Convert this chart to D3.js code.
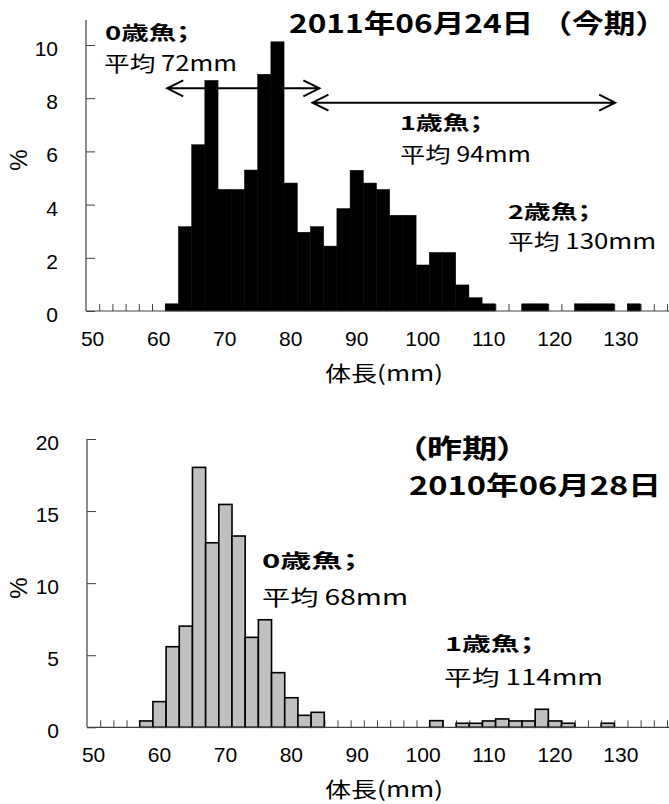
<!DOCTYPE html>
<html><head><meta charset="utf-8">
<script src="https://cdn.jsdelivr.net/npm/d3@7"></script>
<style>
body{margin:0;background:#fff;}
svg text{fill:#000;}
.cjk{font-family:"Noto Sans CJK JP","Noto Sans CJK SC",sans-serif;font-feature-settings:"palt";}
.cjk.full{font-feature-settings:normal;}
.num{font-family:"Liberation Sans",Arial,sans-serif;}
</style></head><body>
<svg id="c" width="669" height="804"></svg>
<script>
// ---------- data ----------
const categories = [50,52,54,56,58,60,62,64,66,68,70,72,74,76,78,80,82,84,86,88,90,92,94,96,98,100,
  102,104,106,108,110,112,114,116,118,120,122,124,126,128,130,132,134,136];
const tickLabels = [50,60,70,80,90,100,110,120,130];
const pct2011 = [0,0,0,0,0,0,0.27,3.17,6.25,8.67,4.57,4.57,5.3,8.9,10.12,4.81,2.96,3.17,2.44,3.85,5.29,4.81,4.57,3.6,3.6,1.73,
  2.2,2.2,0.98,0.5,0.27,0,0,0.27,0.27,0,0,0.27,0.27,0.27,0,0.27,0,0];
const pct2010 = [0,0,0,0,0.44,1.78,5.59,7.02,18.03,12.8,15.46,13.27,6.24,7.46,3.79,2.05,0.83,1.04,0,0,0,0,0,0,0,0,
  0.46,0,0.28,0.28,0.44,0.58,0.44,0.44,1.25,0.44,0.28,0,0,0.28,0,0,0,0];
const yTicks2011 = [0,2,4,6,8,10];
const yTicks2010 = [0,5,10,15,20];
const xTitle = "体長(mm)";
const yTitle = "%";
const title2011 = ["2011年06月24日 （今期）"];
const title2010 = ["（昨期）", "2010年06月28日"];
const notes2011 = ["0歳魚；", "平均 72mm", "1歳魚；", "平均 94mm", "2歳魚；", "平均 130mm"];
const notes2010 = ["0歳魚；", "平均 68mm", "1歳魚；", "平均 114mm"];
// age-group ranges (mm) and arrow height (%) for 2011
const arrowFrom2011 = [62.3, 84.3];
const arrowTo2011 = [85.35, 130.15];
const arrowAt2011 = [8.37, 7.83];

// ---------- layout ----------
const svg = d3.select("#c");
const W = 669;

function drawChart(cfg) {
  const g = svg.append("g");
  const xBand = d3.scaleBand().domain(categories).range([cfg.x0, cfg.x1]).padding(0);
  const xLin = d3.scaleLinear().domain([categories[0], categories[categories.length-1] + 2]).range([cfg.x0, cfg.x1]);
  const y = d3.scaleLinear().domain([0, cfg.yMax]).range([cfg.yBase, cfg.yTopTick]);

  const bounds = categories.map(c => c + 2);
  g.append("g").attr("transform", `translate(0,${cfg.yBase})`)
    .call(d3.axisBottom(xLin).tickValues(bounds).tickSize(-7).tickSizeOuter(0).tickFormat(""))
    .call(a => a.select(".domain").remove())
    .call(a => a.selectAll("line").attr("stroke", "#404040"));

  g.append("g").selectAll("rect").data(categories.map((c, i) => ({c, v: cfg.values[i]})).filter(d => d.v > 0))
    .join("rect")
    .attr("x", d => xBand(d.c)).attr("width", xBand.bandwidth())
    .attr("y", d => y(d.v)).attr("height", d => y(0) - y(d.v))
    .attr("fill", cfg.fill).attr("stroke", cfg.stroke).attr("stroke-width", cfg.sw);

  g.append("line").attr("x1", cfg.x0).attr("x2", W).attr("y1", cfg.yBase).attr("y2", cfg.yBase)
    .attr("stroke", "#404040").attr("stroke-width", 1.2);

  g.append("g").attr("transform", `translate(0,${cfg.yBase})`)
    .call(d3.axisBottom(xBand).tickValues(tickLabels).tickSize(0).tickPadding(0))
    .call(a => a.select(".domain").remove())
    .call(a => a.selectAll("text").attr("class", "num").attr("font-size", 21)
      .attr("y", 35).attr("dy", 0).attr("fill", "#000"));

  g.append("g").attr("transform", `translate(${cfg.x0},0)`)
    .call(d3.axisLeft(y).tickValues(cfg.yTicks).tickSize(-9).tickSizeOuter(0).tickPadding(28))
    .call(a => a.select(".domain").remove())
    .call(a => a.selectAll("line").attr("stroke", "#404040"))
    .call(a => a.selectAll("text").attr("class", "num").attr("font-size", 21).attr("dy", "0.5em").attr("fill", "#000"));
  g.append("line").attr("x1", cfg.x0).attr("x2", cfg.x0).attr("y1", y(cfg.yAxisTop)).attr("y2", cfg.yBase)
    .attr("stroke", "#404040").attr("stroke-width", 1.2);

  g.append("text").attr("class", "cjk").attr("font-size", 21)
    .attr("x", 325).attr("y", cfg.yBase + cfg.xTitleDy)
    .attr("textLength", 118).attr("lengthAdjust", "spacingAndGlyphs").text(xTitle);
  g.append("text").attr("class", "num").attr("font-size", 24).attr("text-anchor", "middle")
    .attr("transform", `translate(27,${cfg.yTitleY}) rotate(-90)`).text(yTitle);

  return {xLin, y, g};
}

function addTexts(items, pos, extraClass) {
  items.forEach((t, i) => {
    const p = pos[i];
    svg.append("text").attr("class", "cjk" + (extraClass ? " " + extraClass : ""))
      .attr("x", p[0]).attr("y", p[1])
      .attr("font-size", p[3]).attr("font-weight", p[4] ? 700 : 400)
      .attr("textLength", p[2]).attr("lengthAdjust", "spacingAndGlyphs")
      .text(t);
  });
}

// ---- top chart (2011) ----
const chartA = drawChart({
  values: pct2011, x0: 86, x1: 667, yBase: 311, yTopTick: 45, yMax: 10, yAxisTop: 10.94,
  yTicks: yTicks2011, fill: "#000", stroke: "#000", sw: 0.5, xTitleDy: 70, yTitleY: 160
});
const ah = 16, aw = 8;
arrowFrom2011.forEach((f, i) => {
  const x1 = chartA.xLin(f), x2 = chartA.xLin(arrowTo2011[i]), yy = chartA.y(arrowAt2011[i]);
  chartA.g.append("path")
    .attr("d", `M${x1},${yy}L${x2},${yy}M${x1+ah},${yy-aw}L${x1},${yy}L${x1+ah},${yy+aw}M${x2-ah},${yy-aw}L${x2},${yy}L${x2-ah},${yy+aw}`)
    .attr("fill", "none").attr("stroke", "#000").attr("stroke-width", 2);
});
addTexts(title2011, [[289, 33, 378, 26, true]], "full");
addTexts(notes2011, [
  [105, 40, 85, 19, true], [104, 71, 133, 21, false],
  [400, 130, 83, 19, true], [400, 162, 131, 21, false],
  [508, 219, 83, 19, true], [508, 249, 148, 21, false]
]);

// ---- bottom chart (2010) ----
drawChart({
  values: pct2010, x0: 87, x1: 667, yBase: 727.3, yTopTick: 439, yMax: 20, yAxisTop: 20,
  yTicks: yTicks2010, fill: "#c0c0c0", stroke: "#000", sw: 1.6, xTitleDy: 70, yTitleY: 588
});
addTexts(title2010, [[409, 458, 106, 26, true], [409, 495, 252, 26, true]]);
addTexts(notes2010, [
  [262, 568, 96, 19, true], [262, 605, 146, 21, false],
  [445, 651, 89, 19, true], [444, 685, 159, 21, false]
]);
</script>
</body></html>
